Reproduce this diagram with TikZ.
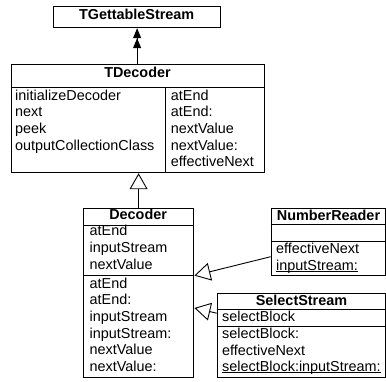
\documentclass[tikz,border=0pt]{standalone}
\usepackage{fontspec}
\setmainfont{Liberation Sans}
\usetikzlibrary{arrows.meta,calc}

% underline drawn close to the baseline
\newcommand{\undr}[1]{\leavevmode\setbox0\hbox{#1}\rlap{\rule[-1.8pt]{\wd0}{0.7pt}}\box0}

\tikzset{
  umlbox/.style={draw, line width=0.9pt, inner sep=0pt, anchor=north west},
  ttl/.style={font=\bfseries\fontsize{14.4}{16}\selectfont, inner sep=0pt, anchor=base},
  item/.style={font=\fontsize{14.4}{16}\selectfont, inner sep=0pt, anchor=base west},
  sepline/.style={line width=0.9pt},
  inherit/.style={line width=0.9pt, -{Triangle[open, length=16pt, width=18pt]}},
  assoc/.style={line width=0.9pt, -{Triangle[length=10pt,width=8pt] Triangle[length=10pt,width=8pt]}},
}

\begin{document}
\begin{tikzpicture}[x=1pt,y=-1pt]
\useasboundingbox (0,0) rectangle (386,381);

% TGettableStream
\node[umlbox, minimum width=166.7pt, minimum height=21.6pt] (tgs) at (53.3,5.7) {};
\node[ttl] (tgsT) at (136.65,19.5) {TGettableStream};

% TDecoder
\node[umlbox, minimum width=253.6pt, minimum height=108pt] (tdec) at (10.7,64.3) {};
\node[ttl] (tdecT) at (137.5,77.7) {TDecoder};
\draw[sepline] ($(tdec.north west)+(0,23)$) -- ($(tdec.north east)+(0,23)$);
\coordinate (tdcol) at (165,87.3);
\draw[sepline] (tdcol) -- (tdcol |- tdec.south);
\foreach \t [count=\i] in {initializeDecoder,next,peek,outputCollectionClass}
  \node[item] (tdl\i) at (15,{100+16.67*(\i-1)}) {\t};
\foreach \t [count=\i] in {atEnd,atEnd:,nextValue,nextValue:,effectiveNext}
  \node[item] (tdr\i) at (170.7,{100+16.67*(\i-1)}) {\t};

% Decoder
\node[umlbox, minimum width=109.7pt, minimum height=168.5pt] (dec) at (83.3,208) {};
\node[ttl] (decT) at (138.15,219.5) {Decoder};
\draw[sepline] ($(dec.north west)+(0,17.5)$) -- ($(dec.north east)+(0,17.5)$);
\draw[sepline] ($(dec.north west)+(0,67.6)$) -- ($(dec.north east)+(0,67.6)$);
\foreach \t [count=\i] in {atEnd,inputStream,nextValue}
  \node[item] (dca\i) at (89.5,{235.7+16.67*(\i-1)}) {\t};
\foreach \t [count=\i] in {atEnd,atEnd:,inputStream,inputStream:,nextValue,nextValue:}
  \node[item] (dcm\i) at (89.5,{288+16.7*(\i-1)}) {\t};

% NumberReader
\node[umlbox, minimum width=114.3pt, minimum height=67.3pt] (nr) at (270.7,207.7) {};
\node[ttl] (nrT) at (328.5,220) {NumberReader};
\draw[sepline] ($(nr.north west)+(0,16.6)$) -- ($(nr.north east)+(0,16.6)$);
\draw[sepline] ($(nr.north west)+(0,33.3)$) -- ($(nr.north east)+(0,33.3)$);
\node[item] (nrm1) at (276,253.3) {effectiveNext};
\node[item] (nrm2) at (276,270) {\undr{inputStream:}};

% SelectStream
\node[umlbox, minimum width=168.3pt, minimum height=83.8pt] (ss) at (216.7,292.7) {};
\node[ttl] (ssT) at (301.5,305) {SelectStream};
\draw[sepline] ($(ss.north west)+(0,16.6)$) -- ($(ss.north east)+(0,16.6)$);
\draw[sepline] ($(ss.north west)+(0,33.3)$) -- ($(ss.north east)+(0,33.3)$);
\node[item] (ssa1) at (222,321.7) {selectBlock};
\node[item] (ssm1) at (222,338.3) {selectBlock:};
\node[item] (ssm2) at (222,355) {effectiveNext};
\node[item] (ssm3) at (222,371.3) {\undr{selectBlock:inputStream:}};

% connectors
\draw[assoc] (tdec.north -| tgs.south) -- (tgs.south);
\draw[inherit] (dec.north) -- (dec.north |- tdec.south);
\coordinate (nrfoot) at ($(nr.north west)+(0,49)$);
\coordinate (decA) at ($(dec.north east)+(0.5,67.6)$);
\draw[inherit] (nrfoot) -- (decA);
\coordinate (ssfoot) at ($(ss.north west)+(0,20.5)$);
\coordinate (decB) at ($(dec.north east)+(0.5,100)$);
\draw[inherit] (ssfoot) -- (decB);
\end{tikzpicture}
\end{document}
